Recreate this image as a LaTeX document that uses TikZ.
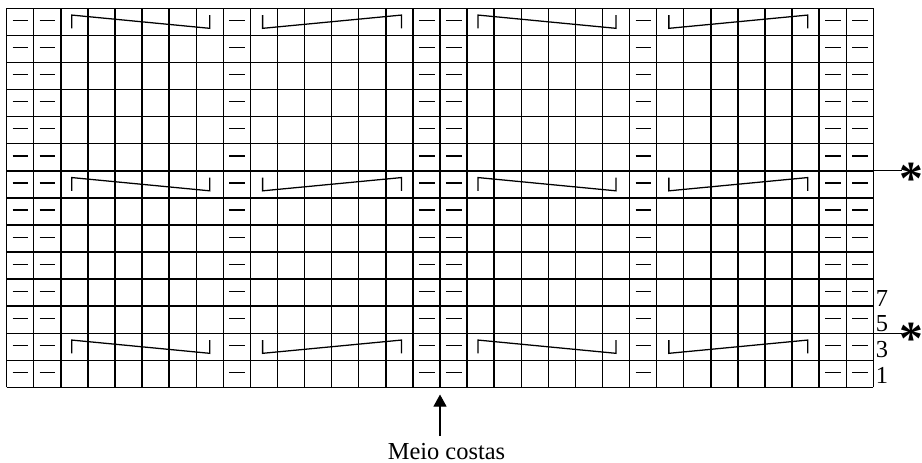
\documentclass[tikz,border=0pt]{standalone}
\usepackage{fontspec}
\setmainfont{Liberation Serif}
\usetikzlibrary{arrows.meta}

\begin{document}
\begin{tikzpicture}[x=0.6cm, y=0.6cm, >={Triangle[width=0.29cm,length=0.27cm]},
  purl/.style={line width=0.8pt},
  cable/.style={line width=0.8pt, line join=miter},
  rowlabel/.style={anchor=west, inner sep=0pt, font=\fontsize{15.4}{18}\selectfont},
  star/.style={inner sep=0pt, font=\fontsize{30}{30}\selectfont\bfseries}]
  \useasboundingbox (-0.247,-2.768) rectangle (33.797,14.306);
  % Grid
  \foreach \x in {0,...,32} {
    \draw[line width=0.9pt] (\x,0) -- (\x,14);
  }
  \foreach \y in {0,...,14} {
    \draw[line width=0.9pt] (0,\y) -- (32,\y);
  }
  % Purl stitches
  \foreach \c in {0,1,8,15,16,23,30,31} {
    \foreach \r in {0,...,13} {
      \draw[purl] (\c+0.22,\r+0.55) -- (\c+0.8,\r+0.55);
    }
  }
  % Cables (rows 2, 8 and 14)
  \foreach \r in {1,7,13} {
    \foreach \c in {2,17} {
      \draw[cable] (\c+0.40,\r+0.26) -- (\c+0.40,\r+0.75) -- (\c+5.50,\r+0.26) -- (\c+5.50,\r+0.75);
    }
    \foreach \c in {9,24} {
      \draw[cable] (\c+0.45,\r+0.75) -- (\c+0.45,\r+0.26) -- (\c+5.58,\r+0.75) -- (\c+5.58,\r+0.26);
    }
  }
  % Row numbers
  \foreach \y/\n in {0.46/1, 1.40/3, 2.34/5, 3.30/7} {
    \node[rowlabel] (row\n) at (32.08,\y) {\n};
  }
  % Repeat marks
  \coordinate (edgeA) at (32,8);
  \coordinate (edgeB) at (32,2);
  \coordinate (endA) at (33.07,8);
  \coordinate (endB) at (33.07,2);
  \node[star] (starA) at (33.39,7.72) {*};
  \node[star] (starB) at (33.39,1.81) {*};
  \draw[line width=0.5pt] (edgeA) -- (endA);
  \draw[line width=0.5pt] (edgeB) -- (endB);
  % Centre back
  \node[inner sep=0pt, anchor=base, font=\fontsize{15.4}{18}\selectfont] (meio) at (16.24,-2.657) {Meio costas};
  \coordinate (tip) at (16,-0.26);
  \coordinate (tail) at (16,-1.80);
  \draw[->, line width=0.8pt] (tail) -- (tip);
\end{tikzpicture}
\end{document}
